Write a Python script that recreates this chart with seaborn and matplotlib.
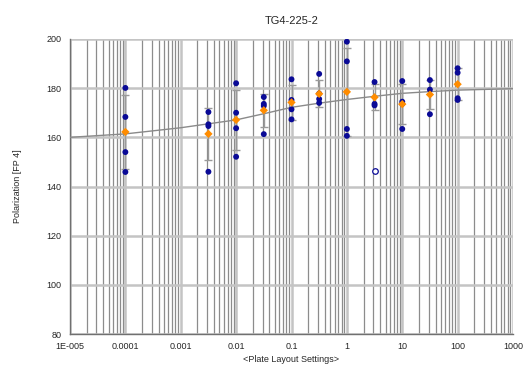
import matplotlib
matplotlib.use('Agg')

import numpy as np
import pandas as pd
import matplotlib.pyplot as plt
import seaborn as sns
from matplotlib.ticker import LogLocator, FixedLocator, NullFormatter

# raw replicate readings (blue dots)
conc_levels = [0.0001, 0.00316, 0.01, 0.0316, 0.1, 0.316, 1, 3.16, 10, 31.6, 100]
replicates = [
    [180.1, 168.3, 154.0, 145.9],
    [170.3, 165.3, 164.6, 146.0],
    [182.0, 170.0, 163.7, 152.1],
    [176.4, 173.6, 172.8, 161.3],
    [183.6, 175.2, 171.4, 167.3],
    [185.8, 177.8, 175.6, 174.0],
    [198.9, 190.9, 163.4, 160.6],
    [182.5, 173.6, 173.0],
    [182.9, 174.5, 173.6, 163.4],
    [183.3, 179.4, 169.4],
    [188.1, 186.3, 175.9, 175.2],
]

# group means (orange) and standard deviations
mean_vals = [162.2, 161.4, 167.1, 171.0, 174.2, 177.7, 178.5, 176.3, 173.5, 177.4, 181.6]
sd_vals = [15.0, 10.6, 12.3, 6.8, 7.0, 5.5, 18.0, 5.2, 8.2, 6.0, 6.6]

# excluded outlier (open circle)
outlier_x = [3.16]
outlier_y = [146.3]

# fitted curve
fit_x = [1e-5, 1e-4, 1e-3, 0.00316, 0.01, 0.0316, 0.1, 0.316, 1, 3.16, 10, 31.6, 100, 1000]
fit_y = [160.0, 161.4, 163.9, 165.5, 167.1, 169.6, 172.2, 173.9, 175.4, 176.7, 177.9, 178.6, 179.2, 179.8]

x_tick_vals = [1e-5, 1e-4, 1e-3, 1e-2, 1e-1, 1, 10, 100, 1000]
x_tick_labels = ['1E-005', '0.0001', '0.001', '0.01', '0.1', '1', '10', '100', '1000']
y_tick_vals = [80, 100, 120, 140, 160, 180, 200]

raw = pd.DataFrame({
    'conc': np.repeat(conc_levels, [len(r) for r in replicates]),
    'value': np.concatenate(replicates),
})

sns.set_style('white')
plt.rcParams['font.family'] = ['Liberation Sans', 'DejaVu Sans']

fig = plt.figure(figsize=(5.26, 3.68), dpi=100)
ax = fig.add_axes([70 / 526, 34 / 368, 443 / 526, 295 / 368])
ax.set_xscale('log')
ax.set_xlim(1e-5, 1000)
ax.set_ylim(80, 200)

# grid
ax.xaxis.set_major_locator(FixedLocator(x_tick_vals))
ax.xaxis.set_minor_locator(LogLocator(base=10, subs=np.arange(2, 10)))
ax.xaxis.set_minor_formatter(NullFormatter())
ax.set_xticklabels(x_tick_labels)
ax.set_yticks(y_tick_vals)
ax.grid(True, which='major', axis='both', color='#c4c4c4', linewidth=1.8)
ax.grid(True, which='minor', axis='x', color='#8c8c8c', linewidth=0.9)
ax.set_axisbelow(True)

sns.lineplot(x=fit_x, y=fit_y, ax=ax, color='#8a8a8a', linewidth=1.0, zorder=3)

ax.errorbar(conc_levels, mean_vals, yerr=sd_vals, fmt='none', ecolor='#9a9a9a',
            elinewidth=1.0, capsize=3, capthick=1.0, zorder=4)

sns.scatterplot(data=raw, x='conc', y='value', ax=ax, color='#0a0a96', s=18,
                edgecolor='none', zorder=5)
sns.scatterplot(x=outlier_x, y=outlier_y, ax=ax, facecolor='white', edgecolor='#0a0a96',
                s=16, linewidth=0.9, zorder=5)
sns.scatterplot(x=conc_levels, y=mean_vals, ax=ax, color='#ff8c00', marker='D', s=18,
                edgecolor='none', zorder=6)

for side in ['top', 'right']:
    ax.spines[side].set_visible(False)
for side in ['left', 'bottom']:
    ax.spines[side].set_color('#707070')
    ax.spines[side].set_linewidth(1.0)

ax.tick_params(axis='both', which='major', direction='out', length=3, width=0.8,
               color='#707070', labelsize=6.5, pad=3)
ax.tick_params(axis='x', which='minor', length=0)

ax.set_title('TG4-225-2', fontsize=8, pad=11)
ax.set_xlabel('<Plate Layout Settings>', fontsize=6.5, labelpad=3)
ax.set_ylabel('Polarization [FP 4]', fontsize=6.5, labelpad=18)

fig.savefig('out.png', dpi=100)
